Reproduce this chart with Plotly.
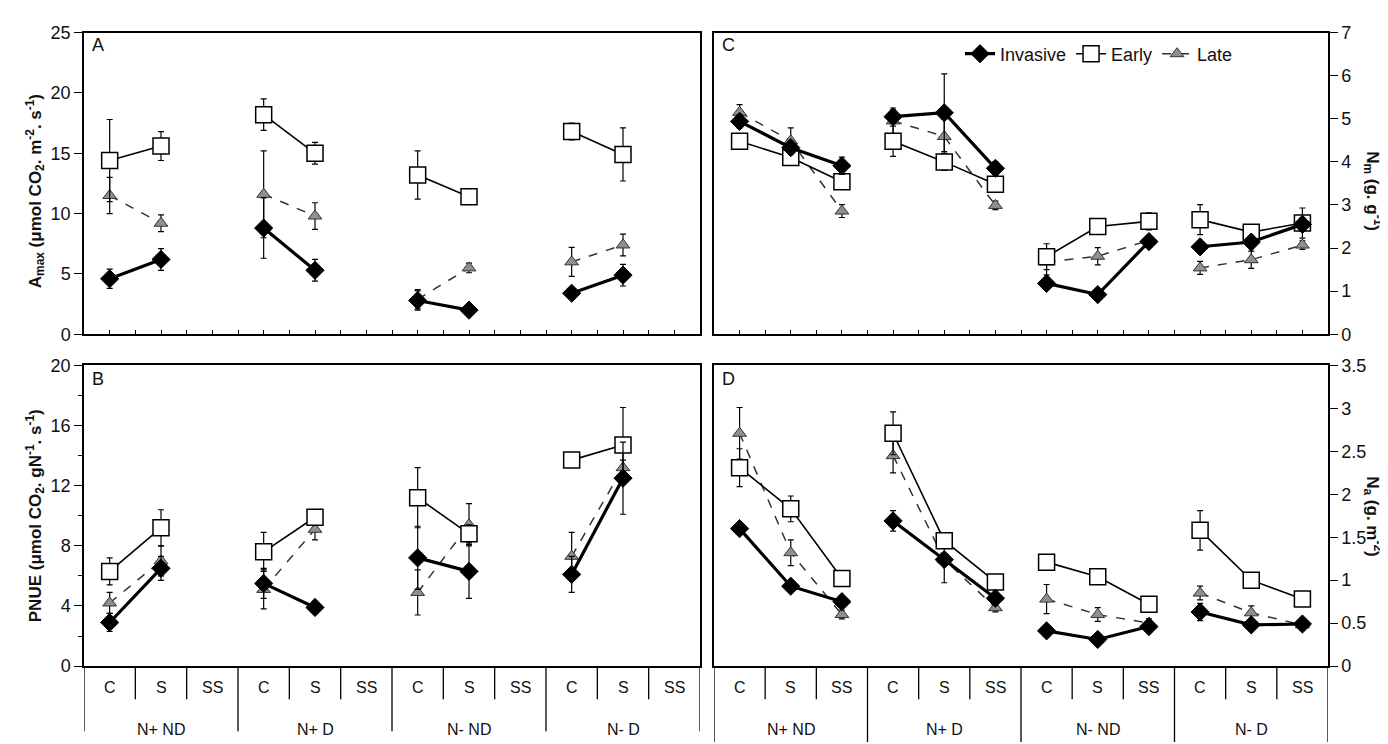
import plotly.graph_objects as go

W, H = 1388, 744

groups = ["N+ ND", "N+ D", "N- ND", "N- D"]
subcats = ["C", "S", "SS"]

# Panel A: Amax (C, S, SS per group)
amax_inv = [4.6, 6.2, None, 8.8, 5.3, None, 2.8, 2.0, None, 3.4, 4.9, None]
amax_inv_err = [0.8, 0.9, None, 2.5, 0.9, None, 0.8, 0.5, None, 0.3, 0.9, None]
amax_early = [14.4, 15.6, None, 18.2, 15.0, None, 13.2, 11.4, None, 16.8, 14.9, None]
amax_early_err = [3.4, 1.2, None, 1.3, 0.9, None, 2.0, 0.3, None, 0.7, 2.2, None]
amax_late = [11.5, 9.2, None, 11.6, 9.8, None, 2.9, 5.5, None, 6.0, 7.4, None]
amax_late_err = [1.5, 0.7, None, 3.6, 1.1, None, 0.8, 0.4, None, 1.2, 0.9, None]

# Panel B: PNUE
pnue_inv = [2.9, 6.5, None, 5.5, 3.9, None, 7.2, 6.3, None, 6.1, 12.5, None]
pnue_inv_err = [0.6, 0.8, None, 1.0, 0.2, None, 2.1, 1.8, None, 1.2, 2.4, None]
pnue_early = [6.3, 9.2, None, 7.6, 9.9, None, 11.2, 8.8, None, 13.7, 14.7, None]
pnue_early_err = [0.9, 1.2, None, 1.3, 0.5, None, 2.0, 0.6, None, 0.4, 2.5, None]
pnue_late = [4.2, 7.0, None, 5.1, 9.1, None, 4.9, 9.4, None, 7.3, 13.2, None]
pnue_late_err = [0.7, 1.0, None, 1.3, 0.7, None, 1.5, 1.4, None, 1.6, 0.5, None]

# Panel C: Nm
nm_inv = [4.94, 4.33, 3.91, 5.05, 5.14, 3.85, 1.18, 0.92, 2.15, 2.03, 2.14, 2.55]
nm_inv_err = [0.15, 0.15, 0.2, 0.15, 0.9, 0.15, 0.05, 0.05, 0.1, 0.1, 0.1, 0.15]
nm_early = [4.48, 4.10, 3.54, 4.48, 4.00, 3.48, 1.80, 2.50, 2.62, 2.66, 2.37, 2.58]
nm_early_err = [0.15, 0.15, 0.15, 0.35, 0.2, 0.15, 0.3, 0.1, 0.2, 0.35, 0.15, 0.35]
nm_late = [5.15, 4.49, 2.86, 4.95, 4.59, 2.99, 1.68, 1.81, 2.18, 1.54, 1.73, 2.07]
nm_late_err = [0.18, 0.3, 0.15, 0.3, 0.4, 0.1, 0.3, 0.2, 0.1, 0.15, 0.2, 0.1]

# Panel D: Na
na_inv = [1.60, 0.93, 0.75, 1.69, 1.24, 0.79, 0.41, 0.31, 0.46, 0.63, 0.48, 0.49]
na_inv_err = [0.03, 0.03, 0.05, 0.12, 0.05, 0.05, 0.03, 0.03, 0.03, 0.1, 0.05, 0.03]
na_early = [2.31, 1.83, 1.02, 2.71, 1.46, 0.98, 1.21, 1.04, 0.72, 1.58, 1.00, 0.78]
na_early_err = [0.22, 0.15, 0.03, 0.25, 0.05, 0.05, 0.03, 0.03, 0.03, 0.23, 0.03, 0.03]
na_late = [2.71, 1.32, 0.60, 2.45, 1.24, 0.68, 0.78, 0.60, 0.50, 0.85, 0.62, 0.48]
na_late_err = [0.3, 0.15, 0.05, 0.2, 0.27, 0.05, 0.17, 0.08, 0.05, 0.08, 0.08, 0.06]

FONT = "Liberation Sans, Arial, sans-serif"


def px(x):
    return x / W


def py(y):
    return 1 - y / H


def split_groups(vals):
    """Insert a None between groups so lines do not join across groups."""
    out = []
    for g in range(len(groups)):
        out.extend(vals[g * 3:(g + 1) * 3])
        out.append(None)
    return out


xpos = list(range(len(groups) * len(subcats)))

styles = {
    "Invasive": dict(marker=dict(symbol="diamond", size=14, color="black",
                                 line=dict(color="black", width=1)),
                     line=dict(color="black", width=3.2)),
    "Early": dict(marker=dict(symbol="square", size=16, color="white",
                              line=dict(color="black", width=1.5)),
                  line=dict(color="black", width=1.6)),
    "Late": dict(marker=dict(symbol="triangle-up", size=12, color="#8f8f8f",
                             line=dict(color="#333333", width=1)),
                 line=dict(color="#333333", width=1.5, dash="dash")),
}

fig = go.Figure()

panels = [
    ("x", "y", [("Invasive", amax_inv, amax_inv_err), ("Early", amax_early, amax_early_err),
                ("Late", amax_late, amax_late_err)]),
    ("x2", "y2", [("Invasive", pnue_inv, pnue_inv_err), ("Early", pnue_early, pnue_early_err),
                  ("Late", pnue_late, pnue_late_err)]),
    ("x3", "y3", [("Invasive", nm_inv, nm_inv_err), ("Early", nm_early, nm_early_err),
                  ("Late", nm_late, nm_late_err)]),
    ("x4", "y4", [("Invasive", na_inv, na_inv_err), ("Early", na_early, na_early_err),
                  ("Late", na_late, na_late_err)]),
]

order = ["Late", "Early", "Invasive"]
for pi, (xa, ya, series) in enumerate(panels):
    sd = {name: (v, e) for name, v, e in series}
    for name in order:
        v, e = sd[name]
        fig.add_trace(go.Scatter(
            x=split_groups(xpos), y=split_groups(v),
            error_y=dict(type="data", array=split_groups(e), color="black",
                         thickness=1.2, width=3),
            mode="lines+markers", name=name, connectgaps=False,
            showlegend=(pi == 2), legendrank={"Invasive": 1, "Early": 2, "Late": 3}[name],
            xaxis=xa, yaxis=ya, **styles[name]))

top_dom = [py(325), py(15)]
bot_dom = [py(666), py(357)]
left_dom = [px(76), px(692)]
right_dom = [px(706), px(1320)]

xcommon = dict(range=[-0.5, 11.5], showgrid=False, zeroline=False, showline=True,
               linecolor="black", linewidth=1.5, mirror=True, showticklabels=False)
ycommon = dict(showgrid=False, zeroline=False, showline=True, linecolor="black",
               linewidth=1.5, mirror=True, ticks="outside", ticklen=8, tickwidth=1.2,
               tickcolor="black", tickfont=dict(family=FONT, size=18, color="#111"))

xtop = dict(ticks="inside", tick0=-0.5, dtick=0.5, ticklen=5, tickwidth=1, tickcolor="black")

fig.update_layout(
    width=W, height=H, margin=dict(l=0, r=0, t=0, b=0),
    paper_bgcolor="white", plot_bgcolor="white",
    font=dict(family=FONT, color="#111"),
    xaxis=dict(domain=left_dom, anchor="y", **xcommon, **xtop),
    yaxis=dict(domain=top_dom, anchor="x", range=[0, 25], dtick=5, **ycommon),
    xaxis2=dict(domain=left_dom, anchor="y2", ticks="", **xcommon),
    yaxis2=dict(domain=bot_dom, anchor="x2", range=[0, 20], dtick=4,
                minor=dict(dtick=2, ticks="outside", ticklen=4, tickcolor="black"), **ycommon),
    xaxis3=dict(domain=right_dom, anchor="y3", **xcommon, **xtop),
    yaxis3=dict(domain=top_dom, anchor="x3", side="right", range=[0, 7], dtick=1, **ycommon),
    xaxis4=dict(domain=right_dom, anchor="y4", ticks="", **xcommon),
    yaxis4=dict(domain=bot_dom, anchor="x4", side="right", range=[0, 3.5], dtick=0.5, **ycommon),
    legend=dict(orientation="h", x=px(952), y=py(18), xanchor="left", yanchor="top",
                bgcolor="rgba(0,0,0,0)", font=dict(family=FONT, size=18, color="#111"),
                itemwidth=30, tracegroupgap=0, traceorder="normal"),
    showlegend=True,
)

# Category table under bottom panels
shapes = []
annotations = []
cat_font = dict(family=FONT, size=16, color="#111")
for xa, bottom_y in (("x2", 733), ("x4", 744)):
    n = len(groups) * len(subcats)
    for k in range(n + 1):
        xb = k - 0.5
        y1 = bottom_y if k % 3 == 0 else 700
        shapes.append(dict(type="line", xref=xa, yref="paper", x0=xb, x1=xb,
                           y0=py(666), y1=py(y1), line=dict(color="black", width=1.3)))
    for i in range(n):
        annotations.append(dict(x=i, y=py(688), xref=xa, yref="paper", showarrow=False,
                                xanchor="center", yanchor="middle",
                                text=subcats[i % 3], font=cat_font))
    for g, gname in enumerate(groups):
        annotations.append(dict(x=g * 3 + 1, y=py(731), xref=xa, yref="paper", showarrow=False,
                                xanchor="center", yanchor="middle",
                                text=gname, font=cat_font))

# Panel letters
for letter, (lx, ly) in zip("ABCD", [(82, 28), (82, 371), (712, 28), (712, 371)]):
    annotations.append(dict(x=px(lx), y=py(ly), xref="paper", yref="paper", showarrow=False,
                            xanchor="left", yanchor="middle", text=letter,
                            font=dict(family=FONT, size=18, color="#111")))

# Axis titles
title_font = dict(family=FONT, size=17, color="#111", weight="bold")
common_t = dict(xref="paper", yref="paper", showarrow=False, xanchor="center", yanchor="middle")
annotations += [
    dict(x=px(27), y=py(178), textangle=-90,
         text="A<sub>max</sub> (μmol CO<sub>2</sub>. m<sup>-2</sup>. s<sup>-1</sup>)",
         font=title_font, **common_t),
    dict(x=px(27), y=py(512), textangle=-90,
         text="PNUE (μmol CO<sub>2</sub>. gN<sup>-1</sup>. s<sup>-1</sup>)",
         font=title_font, **common_t),
    dict(x=px(1365), y=py(178), textangle=90,
         text="N<sub>m</sub> (g. g<sup>-1</sup>)", font=title_font, **common_t),
    dict(x=px(1365), y=py(512), textangle=90,
         text="N<sub>a</sub> (g. m<sup>-2</sup>)", font=title_font, **common_t),
]

fig.update_layout(shapes=shapes, annotations=annotations)

fig.write_html("out.html")
